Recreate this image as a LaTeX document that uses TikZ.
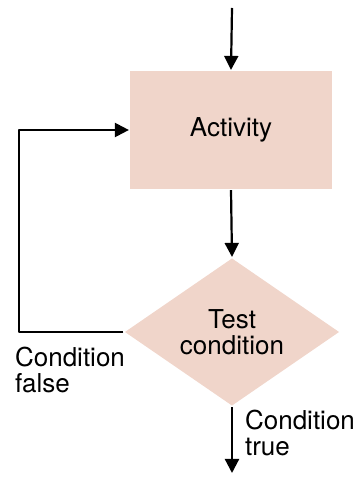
\documentclass[tikz,border=0pt]{standalone}
\usepackage{fontspec}
\setmainfont{TeX Gyre Heros}
\usetikzlibrary{arrows.meta,shapes.geometric}
\begin{document}
\begin{tikzpicture}[x=1pt,y=1pt,line join=round,line width=2.2pt,>={Triangle[width=14pt,length=14pt]},font=\fontsize{26}{26}\selectfont]
		\definecolor{rosebox}{RGB}{240,213,202}
		\tikzset{
			blok/.style={fill=rosebox,draw=none,inner sep=0pt},
			lab/.style={align=left,inner sep=0pt,anchor=north west}
		}
		\useasboundingbox (0,0) rectangle (359,477);
		
		\coordinate (in) at (232,469);
		\coordinate (out) at (232,4);
		\coordinate (back) at (19,0);
		
		\node[blok,minimum width=202pt,minimum height=118pt] (act) at (231,347) {Activity};
		\node[blok,diamond,aspect=1.45,minimum width=215pt,minimum height=148pt,align=center] (test) at (232,145) {Test\\condition};
		
		\node[lab] (false) at (14,131) {Condition\\false};
		\node[lab] (true) at (244,68) {Condition\\true};
		
		\draw[->] (in)--(act.north);
		\draw[->] (act.south)--(test.north);
		\draw[->] (test.west)-|(back |- act.west)--(act.west);
		\draw[->] (test.south)--(out);
	\end{tikzpicture}
\end{document}
